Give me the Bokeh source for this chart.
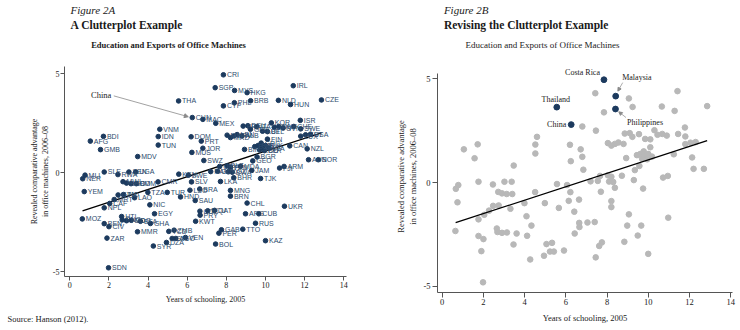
from bokeh.plotting import figure
from bokeh.layouts import row, column
from bokeh.models import Range1d, FixedTicker, Arrow, NormalHead, ColumnDataSource, Title
from bokeh.core.properties import value
from bokeh.embed import file_html
from bokeh.resources import INLINE

# ---------------- data ----------------
codes = ["CRI", "SGP", "MYS", "HKG", "IRL", "THA", "CYP", "PHL", "BRB", "NLD",
         "HUN", "CZE", "CHN", "MAC", "MEX", "ISR", "KOR", "VNM", "IDN", "TUN",
         "BDI", "AFG", "GMB", "MDV", "DOM", "PRT", "JOR", "MUS", "SWZ", "FRA",
         "DEU", "GBR", "ITA", "AUT", "BEL", "JPN", "DNK", "SVN", "CHE", "SWE",
         "EST", "USA", "LUX", "MLT", "MKD", "HRV", "LBN", "ALB", "FIN", "GRC",
         "ESP", "POL", "LTU", "SVK", "LVA", "ROU", "BLR", "BIH", "CAN", "NZL",
         "BGR", "GEO", "AUS", "NOR", "ARM", "FJI", "JAM", "URY", "BLZ", "PAN",
         "MDA", "NAM", "GUY", "KGZ", "BWA", "BHR", "TJK", "LKA", "MNG", "BRN",
         "CHL", "UKR", "ARG", "CUB", "RUS", "TTO", "GAB", "PER", "KAZ", "BOL",
         "COL", "PRY", "ECU", "QAT", "KWT", "SAU", "LSO", "BRA", "HND", "SLV",
         "KEN", "ZWE", "CMR", "TZA", "TUR", "LAO", "IND", "GTM", "MRT", "CAF",
         "NPL", "NIC", "EGY", "MOZ", "BEN", "CIV", "HTI", "PNG", "TGO", "MDG",
         "BFA", "GHA", "MMR", "ZAR", "SYR", "DZA", "ZMB", "TCD", "AGO", "GIN",
         "VEN", "SDN", "MLI", "NER", "YEM", "SLE", "RWA", "SEN", "UGA", "MWI",
         "BGD", "KHM", "COM"]
schooling = [7.85, 7.43, 8.42, 9.06, 11.42, 5.56, 7.85, 8.41, 9.24, 10.66,
             11.28, 12.86, 6.26, 6.80, 7.46, 11.78, 10.30, 4.60, 4.52, 4.52,
             1.72, 1.05, 1.57, 3.47, 6.20, 6.72, 6.80, 6.24, 6.85, 8.86,
             9.10, 9.23, 9.55, 9.85, 10.10, 10.45, 10.68, 10.90, 11.45, 11.80,
             12.05, 12.30, 11.80, 8.04, 8.21, 8.38, 8.55, 8.80, 10.10, 9.78,
             9.45, 9.62, 9.80, 10.00, 10.18, 9.70, 9.95, 8.93, 11.24, 12.13,
             9.57, 9.35, 12.20, 12.70, 10.95, 10.72, 9.30, 7.66, 8.04, 8.21,
             8.72, 7.20, 7.55, 8.10, 8.30, 8.38, 9.75, 7.70, 8.21, 8.21,
             9.06, 10.97, 8.98, 9.66, 9.49, 8.84, 7.75, 7.62, 10.00, 7.45,
             6.65, 6.66, 7.05, 7.40, 6.43, 6.41, 6.14, 6.64, 5.66, 6.22,
             5.57, 6.06, 4.51, 3.99, 4.98, 3.31, 2.74, 2.47, 2.27, 2.04,
             1.76, 4.09, 4.33, 0.64, 1.76, 2.00, 2.65, 2.68, 2.90, 3.14,
             3.61, 4.12, 3.46, 1.90, 4.27, 4.94, 5.33, 5.06, 5.42, 5.23,
             5.91, 1.98, 0.78, 0.66, 0.74, 1.76, 2.46, 3.02, 3.37, 2.72,
             2.90, 3.13, 3.40]
rca = [4.95, 4.30, 4.16, 4.05, 4.40, 3.63, 3.38, 3.54, 3.64, 3.66,
       3.45, 3.68, 2.79, 2.70, 2.50, 2.65, 2.52, 2.20, 1.83, 1.40,
       1.84, 1.60, 1.17, 0.82, 1.82, 1.60, 1.24, 1.03, 0.62, 2.36,
       2.38, 2.20, 2.33, 2.10, 2.08, 2.30, 2.34, 2.26, 2.34, 2.22,
       1.92, 1.95, 1.85, 1.90, 1.78, 1.86, 1.93, 1.86, 1.70, 1.50,
       1.32, 1.38, 1.28, 1.38, 1.25, 1.15, 1.12, 1.18, 1.36, 1.21,
       0.80, 0.60, 0.66, 0.66, 0.32, 0.24, 0.12, 0.32, 0.35, 0.28,
       0.33, 0.06, 0.08, 0.05, 0.03, -0.25, -0.29, -0.44, -0.89, -1.18,
       -1.53, -1.69, -2.07, -2.07, -2.55, -2.85, -2.88, -3.05, -3.43, -3.60,
       -1.94, -2.14, -1.92, -1.90, -2.45, -1.40, -0.88, -0.82, -1.22, -0.46,
       -0.07, -0.12, -0.46, -0.99, -0.99, -1.26, -1.10, -1.12, -1.35, -1.55,
       -1.77, -1.62, -2.07, -2.33, -2.57, -2.72, -2.21, -2.38, -2.42, -2.40,
       -2.45, -2.56, -2.98, -3.30, -3.70, -3.52, -2.90, -2.96, -3.32, -3.32,
       -3.27, -4.80, -0.12, -0.30, -0.95, 0.04, -0.09, 0.04, 0.04, -0.45,
       -0.52, -0.55, -0.55]

fit_x = [0.65, 12.86]
fit_y = [-1.93, 2.02]

x_ticks = [0, 2, 4, 6, 8, 10, 12, 14]
y_ticks = [-5, 0, 5]

highlight_codes = ["CRI", "MYS", "THA", "CHN", "PHL"]
highlight_names = ["Costa Rica", "Malaysia", "Thailand", "China", "Philippines"]

# ---------------- style ----------------
NAVY = "#1c3a5e"
LABEL_COL = "#2d4b6d"
GRAY = "#b8b8b8"
AXIS = "#555555"
ANN = "#8a8a8a"
TXT = "#1a1a1a"
SERIF = "Liberation Serif"
SANS = "Liberation Sans"
YLAB = "Revealed comparative advantage\nin office machines, 2006\u201308"
XLAB = "Years of schooling, 2005"

W = 370
HEAD_H = 50          # title strip above each panel


def text_strip(h, items):
    """A figure without axes whose frame is the whole strip: coordinates are pixels."""
    s = figure(width=W, height=h, x_range=Range1d(0, W), y_range=Range1d(h, 0),
               output_backend="svg", toolbar_location=None, title=None,
               x_axis_location=None, y_axis_location=None,
               min_border=0, min_border_left=0, min_border_right=0,
               min_border_top=0, min_border_bottom=0)
    s.grid.visible = False
    s.outline_line_color = None
    for txt, sx, sy, size, style in items:
        s.text([sx], [sy], text=[txt], text_font=value(SERIF), text_font_size=size,
               text_font_style=style, text_baseline="middle", text_align="left",
               text_color=TXT)
    return s


def make_fig(h, bl, br, bt, bb, xr, yr):
    p = figure(width=W, height=h, x_range=Range1d(*xr), y_range=Range1d(*yr),
               output_backend="svg", toolbar_location=None, title=None,
               min_border_left=bl, min_border_right=br,
               min_border_top=bt, min_border_bottom=bb)
    p.grid.visible = False
    p.outline_line_color = None
    p.background_fill_color = "white"
    p.border_fill_color = "white"
    return p


def style_axes(p, tick_out, xl_standoff, xa_standoff, yl_standoff, ya_standoff, fs, ybounds):
    p.xaxis.ticker = FixedTicker(ticks=x_ticks)
    p.yaxis.ticker = FixedTicker(ticks=y_ticks)
    p.yaxis.major_label_overrides = {t: str(t) for t in y_ticks}
    p.yaxis.bounds = ybounds
    p.xaxis.axis_label = XLAB
    p.yaxis.axis_label = YLAB
    for ax in (p.xaxis, p.yaxis):
        ax.axis_line_color = AXIS
        ax.axis_line_width = 1
        ax.major_tick_line_color = AXIS
        ax.major_tick_out = tick_out
        ax.major_tick_in = 0
        ax.minor_tick_line_color = None
        ax.major_label_text_font = SERIF
        ax.major_label_text_font_size = fs
        ax.major_label_text_color = TXT
        ax.axis_label_text_font = SERIF
        ax.axis_label_text_font_size = fs
        ax.axis_label_text_font_style = "normal"
        ax.axis_label_text_color = TXT
    p.xaxis.major_label_standoff = xl_standoff
    p.xaxis.axis_label_standoff = xa_standoff
    p.yaxis.major_label_standoff = yl_standoff
    p.yaxis.axis_label_standoff = ya_standoff
    p.yaxis.major_label_orientation = "horizontal"


# ---------------- left panel: clutterplot ----------------
L_H = 330 - HEAD_H
L_BL, L_BR, L_BT, L_BB = 64, 24, 16, 54
L_XR, L_YR = (-0.27, 14.14), (-5.24, 5.37)
p1 = make_fig(L_H, L_BL, L_BR, L_BT, L_BB, L_XR, L_YR)
style_axes(p1, 4, 1, 4, 1, 0, "8px", L_YR)

src = ColumnDataSource(dict(x=schooling, y=rca, code=codes))
p1.line(fit_x, fit_y, line_color="black", line_width=1.3)
p1.scatter("x", "y", source=src, size=4.6, fill_color=NAVY, line_color=NAVY)
p1.text("x", "y", text="code", source=src, x_offset=3.5, text_baseline="middle",
        text_align="left", text_font=value(SANS), text_font_size="7px",
        text_color=LABEL_COL)

ppx1 = (W - L_BL - L_BR) / (L_XR[1] - L_XR[0])
ppy1 = (L_H - L_BT - L_BB) / (L_YR[1] - L_YR[0])
i_chn = codes.index("CHN")
chn = (schooling[i_chn], rca[i_chn])
p1.text([chn[0]], [chn[1]], text=["China"], x_offset=-81, y_offset=-22.4,
        text_align="right", text_baseline="middle", text_font=value(SERIF),
        text_font_size="8.5px", text_color=TXT)
p1.add_layout(Arrow(end=NormalHead(size=4, fill_color=ANN, line_color=ANN),
                    x_start=chn[0] - 78.5 / ppx1, y_start=chn[1] + 21.7 / ppy1,
                    x_end=chn[0] - 4 / ppx1, y_end=chn[1] + 0.8 / ppy1,
                    line_color=ANN, line_width=0.8))

# source note, under the x axis, starting near the page's left edge
p1.add_layout(Title(text="Source: Hanson (2012).", align="left", offset=7 - L_BL,
                    standoff=10, text_font=SERIF, text_font_size="8.5px",
                    text_font_style="normal", text_color=TXT), "below")

head1 = text_strip(HEAD_H, [("Figure 2A", 8, 9, "11px", "italic"),
                            ("A Clutterplot Example", 8, 24, "11.5px", "bold"),
                            ("Education and Exports of Office Machines", 35, 44, "8.5px", "bold")])

# ---------------- right panel: revised ----------------
R_H = 330 - HEAD_H
R_BL, R_BR, R_BT, R_BB = 67, 8, 10, 38
R_XR, R_YR = (-0.23, 14.09), (-5.29, 5.875)
p2 = make_fig(R_H, R_BL, R_BR, R_BT, R_BB, R_XR, R_YR)
style_axes(p2, 5, 1, 5, 2, 2, "8.5px", (-5.29, 5.24))

gx = [x for x, c in zip(schooling, codes) if c not in highlight_codes]
gy = [y for y, c in zip(rca, codes) if c not in highlight_codes]
hx = [schooling[codes.index(c)] for c in highlight_codes]
hy = [rca[codes.index(c)] for c in highlight_codes]

p2.scatter(gx, gy, size=5.6, fill_color=GRAY, line_color=GRAY)
p2.line(fit_x, fit_y, line_color="black", line_width=1.3)
p2.scatter(hx, hy, size=5.8, fill_color=NAVY, line_color=NAVY)

ppx2 = (W - R_BL - R_BR) / (R_XR[1] - R_XR[0])
ppy2 = (R_H - R_BT - R_BB) / (R_YR[1] - R_YR[0])

# label placement (screen px relative to the dot, y down) and alignment
ann = {"Costa Rica": (-4, -7, "right"), "Malaysia": (6.5, -19, "left"),
       "Thailand": (-1, -7.5, "center"), "China": (-5, 0, "right"),
       "Philippines": (11.5, 13, "left")}
for name, x, y in zip(highlight_names, hx, hy):
    dx, dy, al = ann[name]
    p2.text([x], [y], text=[name], x_offset=dx, y_offset=dy, text_align=al,
            text_baseline="middle", text_font=value(SERIF), text_font_size="8px",
            text_color=TXT)

arrows = {"Malaysia": ((7, -13.5), (2.2, -5)), "Philippines": ((10.5, 8.5), (3.3, 2.8))}
for name, ((sdx, sdy), (edx, edy)) in arrows.items():
    x, y = hx[highlight_names.index(name)], hy[highlight_names.index(name)]
    p2.add_layout(Arrow(end=NormalHead(size=3.5, fill_color=ANN, line_color=ANN),
                        x_start=x + sdx / ppx2, y_start=y - sdy / ppy2,
                        x_end=x + edx / ppx2, y_end=y - edy / ppy2,
                        line_color=ANN, line_width=0.7))

head2 = text_strip(HEAD_H, [("Figure 2B", 8, 9, "11px", "italic"),
                            ("Revising the Clutterplot Example", 8, 24, "11.5px", "bold"),
                            ("Education and Exports of Office Machines", 35, 44, "9px", "normal")])

layout = row(column(head1, p1), column(head2, p2))
open("out.html", "w").write(file_html(layout, INLINE))
